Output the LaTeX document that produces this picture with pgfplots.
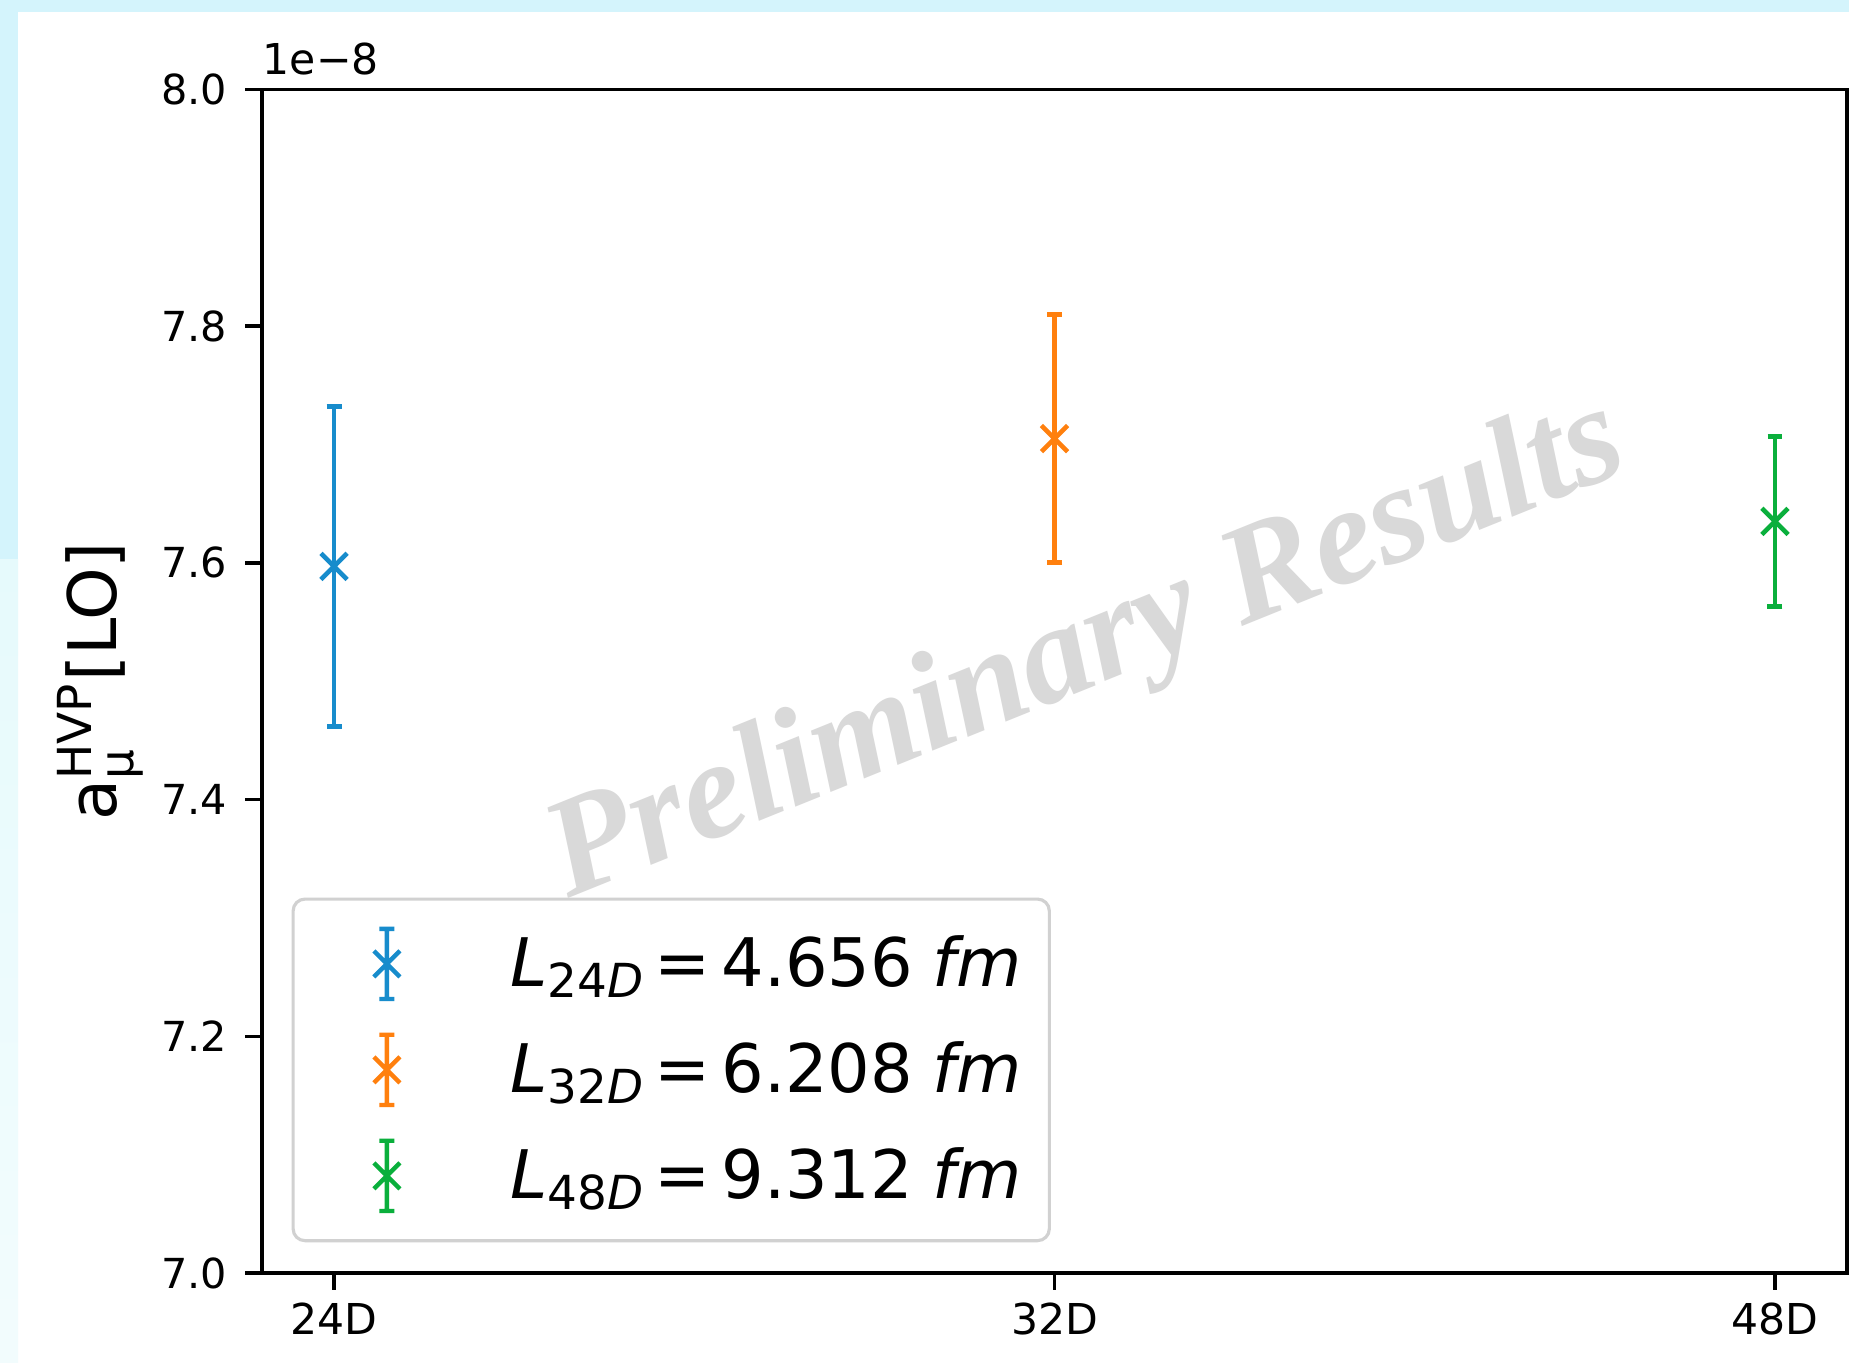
\documentclass[border=0pt]{standalone}
\usepackage{fontspec}
\setmainfont{DejaVu Sans}
\newfontfamily\wmfont{Liberation Serif}
\usepackage{amsmath}
\usepackage{pgfplots}
\pgfplotsset{compat=1.18}
\definecolor{c1}{HTML}{178CCC}
\definecolor{c2}{HTML}{FF800E}
\definecolor{c3}{HTML}{0AAF3C}
\definecolor{bgc}{HTML}{D4F4FC}
\definecolor{bgc2}{HTML}{E6FAFC}
\definecolor{wm}{HTML}{D9D9D9}
\newcommand{\leg}[2]{\textit{L}$_{\text{#1\textit{D}}}$\hspace{2.2pt}=\hspace{2.8pt}#2\hspace{5pt}\textit{fm}}
\pgfplotsset{
  errleg/.style={legend image code/.code={
    \path (-16.4pt,0pt) (31pt,0pt);
    \draw[line width=1.1pt, solid] (0pt,-8.9pt) -- (0pt,8.9pt)
      (-1.9pt,-8.9pt) -- (1.9pt,-8.9pt) (-1.9pt,8.9pt) -- (1.9pt,8.9pt)
      (-3.3pt,-3.3pt) -- (3.3pt,3.3pt) (-3.3pt,3.3pt) -- (3.3pt,-3.3pt);
  }},
  errpt/.style={#1, only marks, mark=x, mark size=4.7pt, mark options={line width=1.15pt, solid},
    errleg,
    error bars/.cd, y dir=both, y explicit,
    error bar style={line width=1.15pt, #1},
    error mark options={rotate=90, mark size=1.9pt, line width=1.3pt, #1}}
}
\begin{document}
\begin{tikzpicture}
\path[use as bounding box] (0,0) rectangle (469.3pt,345.9pt);
\fill[white] (0,0) rectangle (469.3pt,345.9pt);
\fill[bgc] (0,342.9pt) rectangle (469.3pt,345.9pt);
\fill[bgc] (0,204pt) rectangle (4.6pt,345.9pt);
\shade[top color=bgc2, bottom color=bgc2!50!white] (0,0) rectangle (4.6pt,204pt);
\begin{axis}[
  at={(66.5pt,22.8pt)}, anchor=south west,
  scale only axis, width=402.3pt, height=300.4pt,
  xmin=-0.1, xmax=2.1, ymin=7, ymax=8,
  xtick={0,1,2}, xticklabels={24D,32D,48D},
  ytick={7,7.2,7.4,7.6,7.8,8},
  yticklabels={7.0,7.2,7.4,7.6,7.8,8.0},
  tick pos=left, tick align=outside, major tick length=4.3pt,
  tick style={black, line width=0.85pt},
  axis line style={line width=0.85pt},
  yticklabel style={font=\fontsize{10.5}{12}\selectfont, inner sep=0pt, anchor=east, xshift=-4.4pt},
  xticklabel style={font=\fontsize{10.8}{12}\selectfont, inner sep=0pt, anchor=north, yshift=-3.2pt},
  legend style={at={(rel axis cs:0,0)}, anchor=south west, xshift=7.5pt, yshift=7.8pt,
    draw=black!18, line width=0.8pt, rounded corners=3pt, fill=white,
    font=\fontsize{17}{20}\selectfont,
    inner xsep=7pt, inner ysep=7pt, row sep=8pt,
    nodes={inner sep=0pt}},
  legend cell align=left,
  clip=false,
]
\addplot[errpt=c1] coordinates {(0,7.597) +- (0,0.135)};
\addlegendentry{\leg{24}{4.656}}
\addplot[errpt=c2] coordinates {(1,7.705) +- (0,0.105)};
\addlegendentry{\leg{32}{6.208}}
\addplot[errpt=c3] coordinates {(2,7.635) +- (0,0.072)};
\addlegendentry{\leg{48}{9.312}}
\node[rotate=90, anchor=base, inner sep=0pt, font=\fontsize{17}{20}\selectfont]
  at ([xshift=-36.9pt]rel axis cs:0,0.5) {$\text{a}^{\text{HVP}}_{\text{μ}}$[LO]};
\node[anchor=base west, inner sep=0pt, font=\fontsize{10.8}{12}\selectfont]
  at ([yshift=3.9pt]rel axis cs:0,1) {1e−8};
\end{axis}
\node[rotate=22, anchor=base west, inner sep=0pt, text=wm,
  font=\wmfont\bfseries\itshape\fontsize{35.5}{40}\selectfont]
  at (144.2pt,117.8pt) {Preliminary Results};
\end{tikzpicture}
\end{document}
